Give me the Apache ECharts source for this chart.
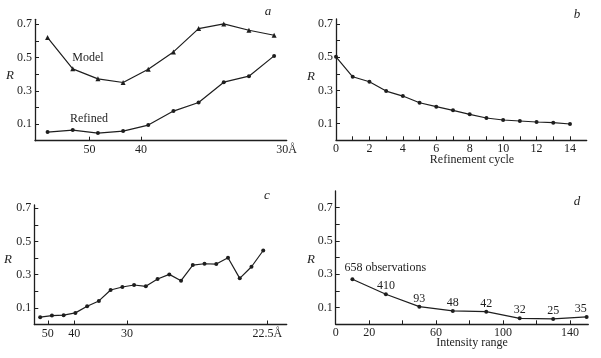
<!DOCTYPE html>
<html>
<head>
<meta charset="utf-8">
<script src="https://cdn.jsdelivr.net/npm/echarts@6/dist/echarts.min.js"></script>
<style>
  html, body { margin: 0; padding: 0; background: #fff; }
  #chart { width: 601px; height: 358px; }
</style>
</head>
<body>
<div id="chart"></div>
<script>
// panel a: R vs resolution shell (bins), model and refined
const aBins = [0, 1, 2, 3, 4, 5, 6, 7, 8, 9]
const modelR = [0.62, 0.432, 0.372, 0.35, 0.43, 0.534, 0.674, 0.702, 0.664, 0.634]
const refinedR = [0.052, 0.064, 0.046, 0.058, 0.094, 0.178, 0.23, 0.352, 0.388, 0.51]
const aTickPos = [1.67, 3.71]
const aLabelPos = [1.67, 3.71, 9.5]
const aLabels = ['50', '40', '30Å']

// panel b: R vs refinement cycle
const cycles = [0, 1, 2, 3, 4, 5, 6, 7, 8, 9, 10, 11, 12, 13, 14]
const cycleR = [0.502, 0.382, 0.352, 0.296, 0.266, 0.226, 0.202, 0.18, 0.156, 0.134, 0.122, 0.116, 0.11, 0.106, 0.098]
const bTicks = [0, 1, 2, 3, 4, 5, 6, 7, 8, 9, 10, 11, 12, 13, 14]
const bLabels = [0, 2, 4, 6, 8, 10, 12, 14]

// panel c: R vs resolution shell, finer bins
const cBins = [0, 1, 2, 3, 4, 5, 6, 7, 8, 9, 10, 11, 12, 13, 14, 15, 16, 17, 18, 19]
const shellR = [0.044, 0.054, 0.056, 0.07, 0.11, 0.142, 0.208, 0.226, 0.238, 0.23, 0.274, 0.302, 0.264, 0.358, 0.366, 0.364, 0.402, 0.278, 0.348, 0.446]
const cLabelPos = [0.65, 2.9, 7.4, 19.35]
const cLabels = ['50', '40', '30', '22.5Å']

// panel d: R vs intensity range
const intensity = [10, 30, 50, 70, 90, 110, 130, 150]
const intensityR = [0.27, 0.18, 0.106, 0.08, 0.076, 0.036, 0.032, 0.044]
const obsCounts = ['658 observations', '410', '93', '48', '42', '32', '25', '35']
const dTicks = [0, 20, 40, 60, 80, 100, 120, 140]
const dLabels = [0, 20, 60, 100, 140]

const rTicks = [0.1, 0.2, 0.3, 0.4, 0.5, 0.6, 0.7]
const rLabels = [0.1, 0.3, 0.5, 0.7]

const ink = '#1e1e1e'
const font = '"Liberation Serif", "DejaVu Serif", serif'

const makeY = (gridIndex, max) => ({
  type: 'value',
  gridIndex: gridIndex,
  min: 0,
  max: max,
  axisLine: { show: true, onZero: false, lineStyle: { color: ink, width: 1.3 } },
  axisTick: { show: true, inside: true, length: 4, customValues: rTicks, lineStyle: { color: ink } },
  axisLabel: {
    customValues: rLabels,
    margin: 3,
    color: ink,
    fontFamily: font,
    fontSize: 12,
    formatter: (v) => v.toFixed(1)
  },
  splitLine: { show: false }
})

const makeX = (gridIndex, min, max, ticks, labelPos, labels) => ({
  type: 'value',
  gridIndex: gridIndex,
  min: min,
  max: max,
  axisLine: { show: true, onZero: false, lineStyle: { color: ink, width: 1.3 } },
  axisTick: { show: true, inside: true, length: 4, customValues: ticks, lineStyle: { color: ink } },
  axisLabel: {
    customValues: labelPos,
    margin: 3,
    color: ink,
    fontFamily: font,
    fontSize: 12,
    formatter: (v) => {
      const i = labelPos.indexOf(v)
      return i >= 0 ? String(labels[i]) : ''
    }
  },
  splitLine: { show: false }
})

const lineSeries = (xIdx, xs, ys, symbol, size) => ({
  type: 'line',
  xAxisIndex: xIdx,
  yAxisIndex: xIdx,
  data: xs.map((x, i) => [x, ys[i]]),
  symbol: symbol,
  symbolSize: size,
  lineStyle: { color: ink, width: 1.2 },
  itemStyle: { color: ink },
  animation: false
})

const txt = (x, y, text, opts) => ({
  type: 'text',
  x: x,
  y: y,
  style: Object.assign({
    text: text,
    fill: ink,
    font: '12px ' + font,
    align: 'center',
    verticalAlign: 'middle'
  }, opts || {})
})

const myChart = echarts.init(document.getElementById('chart'))

// panel d carries the observation counts as point labels
const seriesD = lineSeries(3, intensity, intensityR, 'circle', 4)
seriesD.data = intensity.map((x, i) => {
  const item = { value: [x, intensityR[i]] }
  if (i === 0) {
    item.label = { align: 'left', offset: [-8, -3] }
  }
  if (i === obsCounts.length - 1) {
    item.label = { offset: [-6, 0] }
  }
  return item
})
seriesD.label = {
  show: true,
  position: 'top',
  distance: 0,
  color: ink,
  fontFamily: font,
  fontSize: 12,
  formatter: (p) => obsCounts[p.dataIndex]
}

const option = {
  backgroundColor: '#fff',
  grid: [
    { left: 35, right: 314.3, top: 19.3, bottom: 217.3 },
    { left: 336, right: 14.3, top: 18.9, bottom: 217.7 },
    { left: 34.3, right: 314.3, top: 205, bottom: 33.5 },
    { left: 335.7, right: 12.7, top: 191, bottom: 33.7 }
  ],
  xAxis: [
    makeX(0, -0.5, 9.5, aTickPos, aLabelPos, aLabels),
    makeX(1, 0, 15, bTicks, bLabels, bLabels),
    makeX(2, -0.5, 21, cLabelPos, cLabelPos, cLabels),
    makeX(3, 0, 151, dTicks, dLabels, dLabels)
  ],
  yAxis: [makeY(0, 0.73), makeY(1, 0.73), makeY(2, 0.72), makeY(3, 0.8)],
  series: [
    lineSeries(0, aBins, modelR, 'triangle', 5),
    lineSeries(0, aBins, refinedR, 'circle', 4),
    lineSeries(1, cycles, cycleR, 'circle', 4),
    lineSeries(2, cBins, shellR, 'circle', 4),
    seriesD
  ],
  graphic: [
    txt(88, 58, 'Model'),
    txt(89, 119, 'Refined'),
    txt(268, 12, 'a', { font: 'italic 13px ' + font }),
    txt(577, 15, 'b', { font: 'italic 13px ' + font }),
    txt(267, 196, 'c', { font: 'italic 13px ' + font }),
    txt(577, 202, 'd', { font: 'italic 13px ' + font }),
    txt(10, 76, 'R', { font: 'italic 13px ' + font }),
    txt(311, 77, 'R', { font: 'italic 13px ' + font }),
    txt(8, 260, 'R', { font: 'italic 13px ' + font }),
    txt(311, 260, 'R', { font: 'italic 13px ' + font }),
    txt(472, 160, 'Refinement cycle'),
    txt(472, 343, 'Intensity range')
  ]
}

myChart.setOption(option)
</script>
</body>
</html>
